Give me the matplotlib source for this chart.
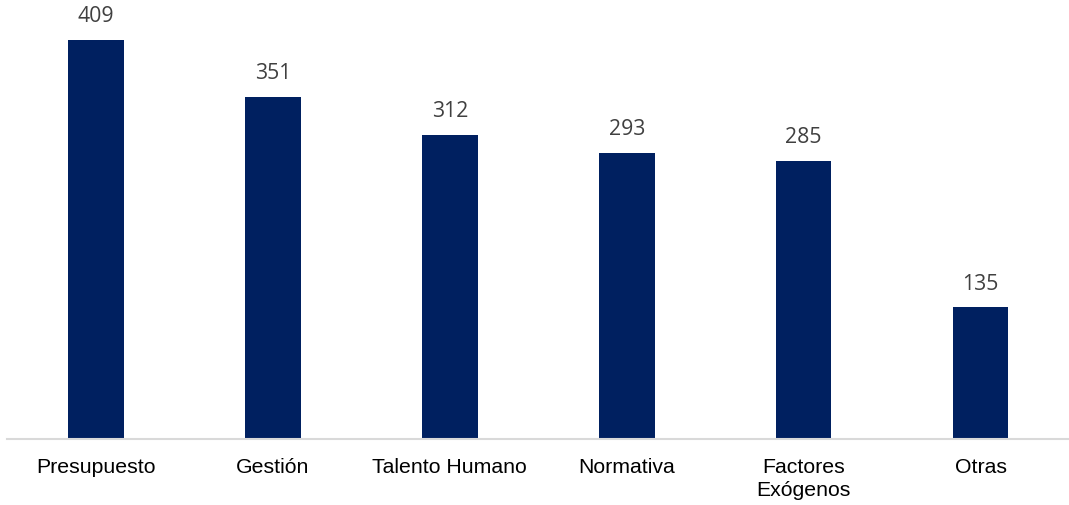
import matplotlib
matplotlib.use('Agg')
import matplotlib.pyplot as plt

# Chart data
categories = ['Presupuesto', 'Gestión', 'Talento Humano', 'Normativa', 'Factores\nExógenos', 'Otras']
values = [409, 351, 312, 293, 285, 135]

bar_color = '#002060'

fig = plt.figure(figsize=(10.69, 5.05), dpi=100)
ax = fig.add_axes([0.007, 1 - 439 / 505, 0.993, 439 / 505])

x = list(range(len(categories)))
bars = ax.bar(x, values, width=0.315, color=bar_color, zorder=2)

ax.set_xlim(-0.5, len(categories) - 0.5)
ax.set_ylim(0, 450)

# value labels above bars
for xi, v in zip(x, values):
    ax.text(xi, v + 13, str(v), ha='center', va='bottom',
            fontsize=15.3, color='#404040', family='Open Sans')

ax.set_xticks(x)
ax.set_xticklabels(categories, fontsize=15.3, family='Liberation Sans',
                   color='black', linespacing=1.25)
ax.tick_params(axis='x', length=0, pad=14)
ax.set_yticks([])

for side in ['top', 'right', 'left']:
    ax.spines[side].set_visible(False)
ax.spines['bottom'].set_color('#d9d9d9')
ax.spines['bottom'].set_linewidth(1.5)

fig.savefig('out.png', dpi=100)
